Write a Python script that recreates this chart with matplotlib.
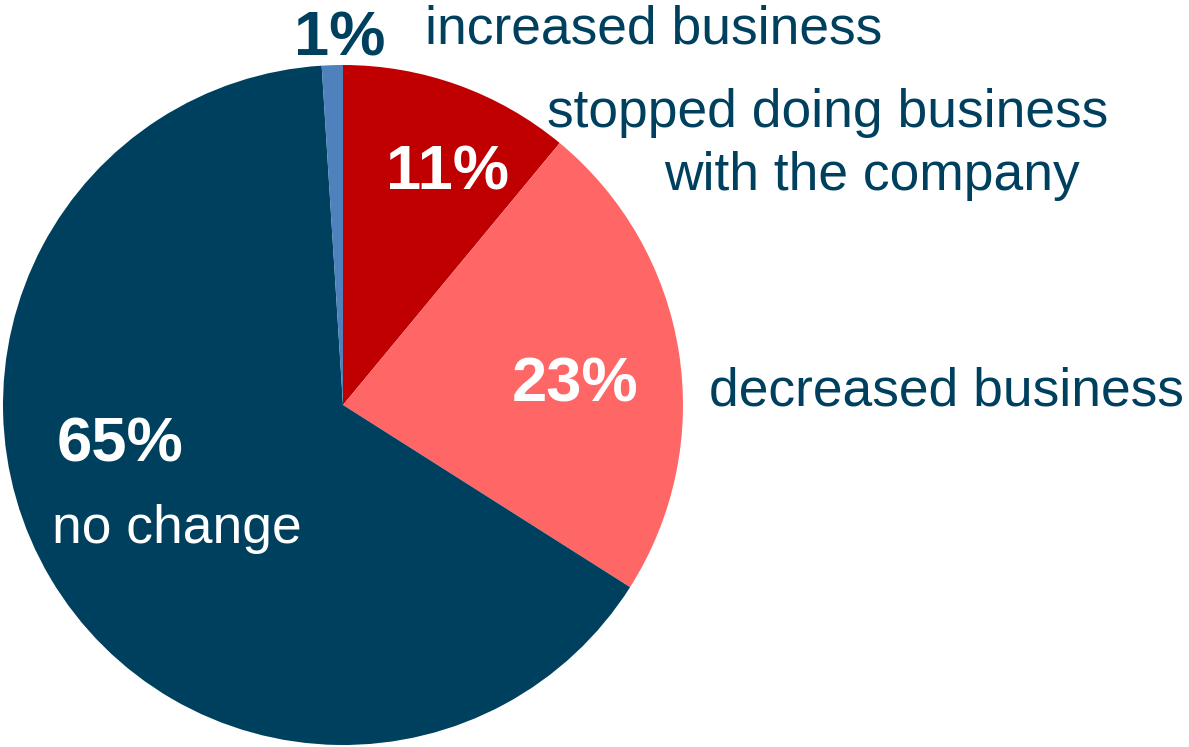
import matplotlib
matplotlib.use("Agg")
import matplotlib.pyplot as plt

# Survey responses: change in business with the company
categories = ["stopped doing business\nwith the company", "decreased business", "no change", "increased business"]
shares = [11, 23, 65, 1]
colors = ["#C00000", "#FF6666", "#00405F", "#4F81BD"]
text_color = "#00405F"

W, H = 1189, 747
fig = plt.figure(figsize=(W / 100, H / 100), dpi=100)
ax = fig.add_axes([0, 0, 1, 1])

cx, cy, r = 343, H - 405, 340
ax.pie(shares, colors=colors, startangle=90, counterclock=False,
       center=(cx, cy), radius=r, frame=True,
       wedgeprops=dict(linewidth=0))
ax.set_xlim(0, W)
ax.set_ylim(0, H)
ax.set_aspect("equal")
ax.axis("off")

font = "Liberation Sans"
pct_size = 45.5
lab_size = 38.4


def y(px):
    return H - px


# percentage labels
ax.text(448, y(189), f"{shares[0]}%", color="white", fontsize=pct_size,
        fontweight="bold", family=font, ha="center", va="baseline")
ax.text(575, y(401), f"{shares[1]}%", color="white", fontsize=pct_size,
        fontweight="bold", family=font, ha="center", va="baseline")
ax.text(120, y(462), f"{shares[2]}%", color="white", fontsize=pct_size,
        fontweight="bold", family=font, ha="center", va="baseline")
ax.text(340, y(55), f"{shares[3]}%", color=text_color, fontsize=pct_size,
        fontweight="bold", family=font, ha="center", va="baseline")

# category labels
line1, line2 = categories[0].split("\n")
ax.text(547, y(127), line1, color=text_color, fontsize=lab_size,
        family=font, ha="left", va="baseline")
ax.text(664, y(190), line2, color=text_color, fontsize=lab_size,
        family=font, ha="left", va="baseline")
ax.text(1184, y(405), categories[1], color=text_color, fontsize=lab_size,
        family=font, ha="right", va="baseline")
ax.text(52, y(543), categories[2], color="white", fontsize=lab_size,
        family=font, ha="left", va="baseline")
ax.text(425, y(44), categories[3], color=text_color, fontsize=lab_size,
        family=font, ha="left", va="baseline")

fig.savefig("out.png", dpi=100, facecolor="white")
